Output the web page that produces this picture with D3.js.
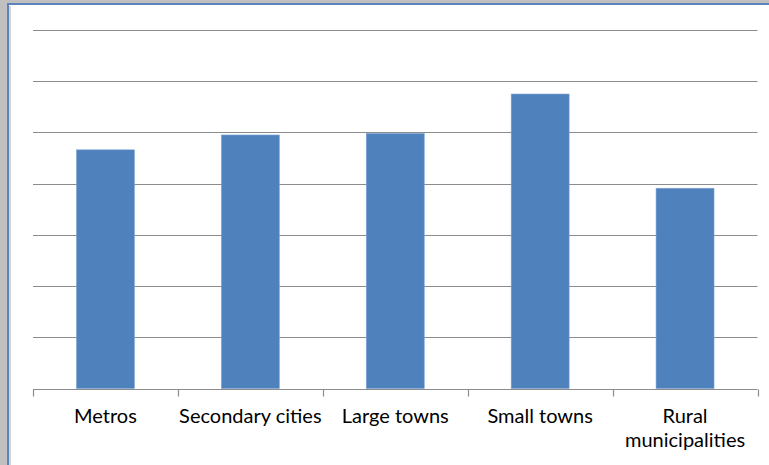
<!DOCTYPE html>
<html>
<head>
<meta charset="utf-8">
<script src="https://cdn.jsdelivr.net/npm/d3@7"></script>
<style>
  html, body { margin: 0; padding: 0; background: #c0c0c0; }
  svg { display: block; }
</style>
</head>
<body>
<div id="chart"></div>
<script>
// bar chart - heights in gridline units (no value labels on the original)
const categories = ['Metros', 'Secondary cities', 'Large towns', 'Small towns', 'Rural municipalities'];
const labelLines = [['Metros'], ['Secondary cities'], ['Large towns'], ['Small towns'], ['Rural', 'municipalities']];
const values = [4.66, 4.95, 4.98, 5.75, 3.91];
const yTicks = [1, 2, 3, 4, 5, 6, 7];

const width = 769, height = 465;
const margin = { top: 30, right: 11.5, bottom: 76.5, left: 33 };

const svg = d3.select('#chart').append('svg')
    .attr('width', width)
    .attr('height', height);

// grey window background + blue frame of the chart object
svg.append('rect')
    .attr('width', width).attr('height', height)
    .attr('fill', '#c0c0c0');
svg.append('rect')
    .attr('x', 8).attr('y', 4)
    .attr('width', width).attr('height', height)
    .attr('fill', '#fff')
    .attr('stroke', '#5a84bb')
    .attr('stroke-width', 2);
svg.append('line')
    .attr('x1', 10).attr('x2', 10).attr('y1', 6).attr('y2', height)
    .attr('stroke', '#a9a9a9').attr('stroke-width', 1);

const innerW = width - margin.left - margin.right;
const innerH = height - margin.top - margin.bottom;

const g = svg.append('g')
    .attr('transform', `translate(${margin.left}, ${margin.top})`);

const x = d3.scaleBand()
    .domain(categories)
    .range([0, innerW])
    .paddingInner(0.6)
    .paddingOuter(0.3);

const xBand = d3.scaleBand()
    .domain(categories)
    .range([0, innerW]);

const y = d3.scaleLinear()
    .domain([0, 7])
    .range([innerH, 0]);

// gridlines
g.selectAll('.grid')
    .data(yTicks)
    .join('line')
    .attr('class', 'grid')
    .attr('x1', 0)
    .attr('x2', innerW)
    .attr('y1', d => Math.round(y(d)) + 0.5)
    .attr('y2', d => Math.round(y(d)) + 0.5)
    .attr('stroke', '#8c8c8c')
    .attr('stroke-width', 1.2);

// bars
g.selectAll('.bar')
    .data(values)
    .join('rect')
    .attr('class', 'bar')
    .attr('x', (d, i) => x(categories[i]))
    .attr('y', d => y(d))
    .attr('width', x.bandwidth())
    .attr('height', d => innerH - y(d))
    .attr('fill', '#4f81bd')
    .attr('stroke', '#7ea3d3')
    .attr('stroke-width', 0.6);

// category axis with tick marks on band boundaries
const axisY = Math.round(innerH) + 0.5;
g.append('line')
    .attr('x1', 0).attr('x2', innerW)
    .attr('y1', axisY).attr('y2', axisY)
    .attr('stroke', '#8c8c8c')
    .attr('stroke-width', 1.2);

const bounds = categories.map(c => xBand(c)).concat([innerW]);
g.selectAll('.tick-mark')
    .data(bounds)
    .join('line')
    .attr('class', 'tick-mark')
    .attr('x1', d => Math.round(d) + 0.5)
    .attr('x2', d => Math.round(d) + 0.5)
    .attr('y1', axisY)
    .attr('y2', axisY + 7)
    .attr('stroke', '#8c8c8c')
    .attr('stroke-width', 1.2);

const labels = g.selectAll('.x-label')
    .data(categories)
    .join('text')
    .attr('class', 'x-label')
    .attr('x', d => xBand(d) + xBand.bandwidth() / 2)
    .attr('y', innerH + 34.5)
    .attr('text-anchor', 'middle')
    .attr('font-family', 'Lato, "Open Sans", sans-serif')
    .attr('font-size', 20)
    .attr('fill', '#000');

labels.selectAll('tspan')
    .data((d, i) => labelLines[i])
    .join('tspan')
    .attr('x', function () { return d3.select(this.parentNode).attr('x'); })
    .attr('dy', (d, i) => i === 0 ? 0 : 24)
    .text(d => d);
</script>
</body>
</html>
